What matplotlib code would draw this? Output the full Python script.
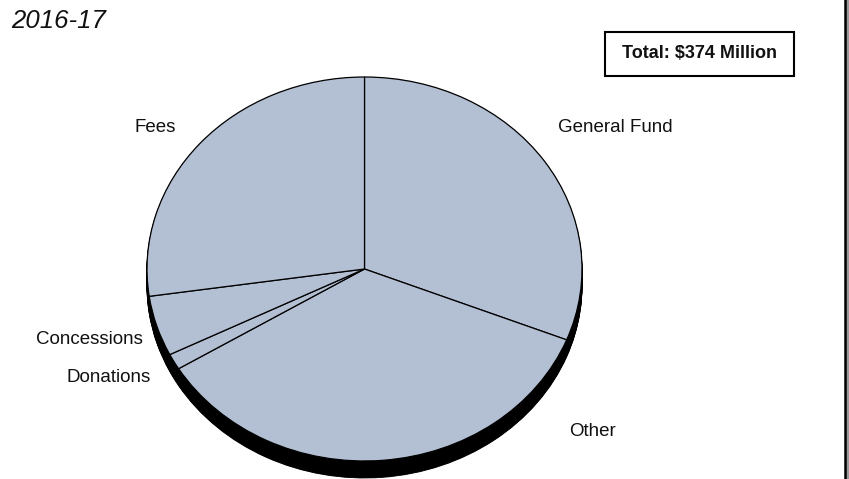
import numpy as np
import matplotlib
matplotlib.use("Agg")
import matplotlib.pyplot as plt
from matplotlib.patches import Rectangle
from matplotlib.lines import Line2D

plt.rcParams['font.family'] = ['Liberation Sans', 'DejaVu Sans']

# Funding sources, $ millions (clockwise from 12 o'clock)
sources = ['General Fund', 'Other', 'Donations', 'Concessions', 'Fees']
amounts = [116, 132, 5, 19, 102]
year_label = '2016-17'
total_label = 'Total: $374 Million'

W, H = 849, 479
fig = plt.figure(figsize=(W / 100, H / 100), dpi=100)
ax = fig.add_axes([0, 0, 1, 1])

face = '#b3bfd2'
cx_px, cy_px = 364.5, 269.0   # pie centre in pixels (from top-left)
rx_px, ry_px = 217.5, 192.0   # ellipse radii
depth = 17 / ry_px            # thickness of the tilted disc


def px(x, y):
    """pixel (from top-left) -> data coords of the pie axes"""
    return (x - cx_px) / rx_px, (cy_px - y) / ry_px


# side of the disc: stack of black pies shifted down
for off in np.linspace(depth, 0.005, 24):
    ax.pie(amounts, startangle=90, counterclock=False, center=(0, -off),
           colors=['black'] * len(amounts),
           wedgeprops=dict(edgecolor='black', linewidth=0.6))

# top face
ax.pie(amounts, startangle=90, counterclock=False,
       colors=[face] * len(amounts),
       wedgeprops=dict(edgecolor='black', linewidth=0.9))

ax.set_aspect('auto')
ax.set_xlim(-cx_px / rx_px, (W - cx_px) / rx_px)
ax.set_ylim(-(H - cy_px) / ry_px, cy_px / ry_px)
ax.axis('off')

lab_fs = 13.5
label_pos = {
    'General Fund': (558, 127, 'left'),
    'Fees': (176, 127, 'right'),
    'Concessions': (143, 340, 'right'),
    'Donations': (151, 377, 'right'),
    'Other': (569, 432, 'left'),
}
for name in sources:
    x, y, ha = label_pos[name]
    ax.text(*px(x, y), name, ha=ha, va='center', fontsize=lab_fs, color='#111111')

# year heading
ax.text(*px(11, 21), year_label, ha='left', va='center', fontsize=18.5,
        style='italic', color='#111111')

# total box
bx0, by0, bx1, by1 = 605, 32, 794, 76
fig.add_artist(Rectangle((bx0 / W, 1 - by1 / H), (bx1 - bx0) / W, (by1 - by0) / H,
                         transform=fig.transFigure, facecolor='white',
                         edgecolor='black', linewidth=1.5))
fig.text((bx0 + bx1) / 2 / W, 1 - (by0 + by1) / 2 / H, total_label,
         ha='center', va='center', fontsize=13, fontweight='bold', color='#111111')

# frame edge on the right
fig.add_artist(Rectangle((845.7 / W, 0), (W - 845.7) / W, 1,
                         transform=fig.transFigure, facecolor='#9a9a9a',
                         edgecolor='none'))
fig.add_artist(Line2D([844.5 / W, 844.5 / W], [0, 1], transform=fig.transFigure,
                      color='black', linewidth=1.8))

fig.savefig('out.png', dpi=100)
